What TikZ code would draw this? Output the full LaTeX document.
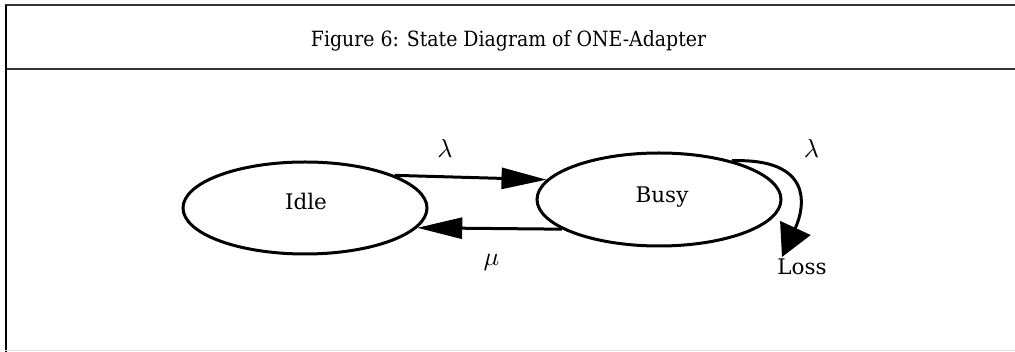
\documentclass[tikz,border=0pt]{standalone}
\usepackage{graphicx}
\usepackage{fontspec}
\newfontfamily\titlefont{DejaVu Serif Condensed}
\newfontfamily\labelfont{DejaVu Serif}
\usetikzlibrary{arrows.meta,shapes.geometric}

% rate symbols, enlarged from the 10pt math size
\newcommand{\ratesym}[1]{\scalebox{2.6}{$#1$}}

\tikzset{
  rule/.style={line width=2pt, black!80},
  state/.style={ellipse, draw, line width=3pt, minimum width=244pt, minimum height=92pt, inner sep=0pt},
  statetext/.style={font=\labelfont\fontsize{21.5}{24}\selectfont, inner sep=0pt, anchor=base},
  ratetext/.style={inner sep=0pt, anchor=base},
  trans/.style={line width=3pt, -{Triangle[length=45pt, width=21pt]}},
  losstrans/.style={line width=3pt, -{Triangle[length=32pt, width=33pt]}}
}

\begin{document}
\begin{tikzpicture}[x=1pt, y=-1pt]
  \useasboundingbox (0,0) rectangle (1015,352);

  % frame and heading
  \draw[rule] (5,5.5) -- (1015,5.5);
  \draw[rule] (5,69.5) -- (1015,69.5);
  \draw[line width=2pt] (5.5,5) -- (5.5,352);
  \draw[line width=1pt, black!12] (5,351) -- (1015,351);
  \node[font=\titlefont\fontsize{21}{24}\selectfont, inner sep=0pt, anchor=base] (title) at (508.5,46.7)
    {Figure 6: State Diagram of ONE-Adapter};

  % states
  \node[state] (idle) at (305,208) {};
  \node[state, minimum height=93pt] (busy) at (659,199.5) {};
  \node[statetext] (idlet) at (306,210) {Idle};
  \node[statetext] (busyt) at (662,203) {Busy};
  \node[statetext] (loss) at (802,275) {Loss};
  \coordinate (losstip) at (782,257);

  % transitions
  \draw[trans] (idle.20) -- (busy.170);
  \draw[trans] (busy.197) -- (idle.350);
  \draw[losstrans] (busy.28) .. controls (812,158) and (806,205) .. (losstip);

  % rates
  \node[ratetext] (lam1) at (445,158) {\ratesym{\lambda}};
  \node[ratetext] (mu) at (491.5,266) {\ratesym{\mu}};
  \node[ratetext] (lam2) at (811.5,158) {\ratesym{\lambda}};
\end{tikzpicture}
\end{document}
